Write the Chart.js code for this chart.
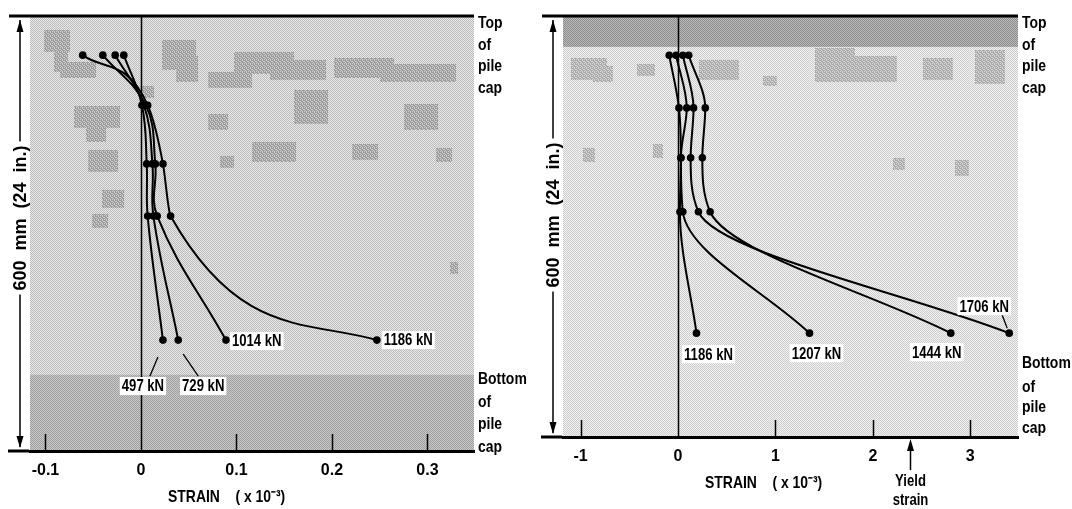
<!DOCTYPE html>
<html>
<head>
<meta charset="utf-8">
<script src="https://cdn.jsdelivr.net/npm/chart.js@4.4.1/dist/chart.umd.min.js"></script>
<style>
  html, body { margin: 0; padding: 0; background: #fff; overflow: hidden; }
  #wrap { position: relative; width: 1072px; height: 509px; }
  canvas { position: absolute; top: 0; }
  #left { left: 0; }
  #right { left: 536px; }
</style>
</head>
<body>
<div id="wrap">
  <canvas id="left" width="536" height="509"></canvas>
  <canvas id="right" width="536" height="509"></canvas>
</div>
<script>
// gauge heights above the bottom of the pile cap (mm), top row first
const heightsLeft = [546, 477, 396, 324, 153];
const heightsRight = [544, 469, 398, 321, 148];

// left panel: strain (x 10^-3) per load
const loadsLeft = ['497 kN', '729 kN', '1014 kN', '1186 kN'];
const strainL497 = [-0.018, 0.001, 0.006, 0.007, 0.023];
const strainL729 = [-0.027, 0.003, 0.012, 0.013, 0.039];
const strainL1014 = [-0.040, 0.005, 0.015, 0.017, 0.089];
const strainL1186 = [-0.061, 0.007, 0.023, 0.031, 0.247];
const ticksLeft = [-0.1, 0, 0.1, 0.2, 0.3];

// right panel
const loadsRight = ['1186 kN', '1207 kN', '1444 kN', '1706 kN'];
const strainR1186 = [-0.09, 0.01, 0.03, 0.02, 0.19];
const strainR1207 = [-0.02, 0.09, 0.03, 0.05, 1.35];
const strainR1444 = [0.11, 0.28, 0.25, 0.33, 2.80];
const strainR1706 = [0.05, 0.16, 0.13, 0.21, 3.40];
const ticksRight = [-1, 0, 1, 2, 3];
const yieldStrain = 2.38;

const FONT = '"Liberation Sans", Arial, sans-serif';
const font = (size) => 'bold ' + size + 'px ' + FONT;

// darker aggregate patches in the scanned concrete (px from chart area top-left)
const patchesLeft = [
  [14, 14, 26, 22], [24, 30, 14, 26], [30, 46, 36, 16], [44, 90, 46, 22], [56, 104, 20, 22],
  [58, 134, 30, 22], [72, 174, 22, 18], [132, 24, 34, 30], [146, 40, 22, 26], [178, 56, 44, 16],
  [204, 36, 60, 22], [240, 44, 56, 20], [264, 74, 34, 34], [304, 42, 60, 20], [350, 48, 76, 18],
  [374, 88, 34, 26], [222, 126, 44, 20], [322, 128, 26, 16], [406, 132, 16, 14], [62, 198, 16, 14],
  [178, 98, 20, 16], [420, 246, 8, 12], [110, 70, 14, 12], [190, 140, 14, 12]
];
const patchesRight = [
  [8, 42, 36, 22], [30, 50, 20, 16], [74, 48, 18, 12], [136, 44, 40, 20], [252, 32, 40, 34],
  [290, 40, 44, 26], [360, 42, 30, 22], [412, 34, 30, 34], [20, 132, 12, 14], [90, 128, 10, 14],
  [330, 142, 12, 12], [392, 144, 14, 16], [200, 60, 14, 10]
];

// scanned halftone look: small repeating tile of two greys
function halftone(ctx, base, dot, grainy) {
  const p = document.createElement('canvas');
  p.width = p.height = 4;
  const g = p.getContext('2d');
  g.fillStyle = base; g.fillRect(0, 0, 4, 4);
  g.fillStyle = dot;
  const cells = grainy
    ? [[0, 0], [1, 0], [3, 0], [1, 1], [2, 1], [0, 2], [2, 2], [3, 2], [1, 3], [3, 3]]
    : [[0, 0], [2, 0], [1, 1], [3, 1], [0, 2], [2, 2], [1, 3], [3, 3]];
  cells.forEach(c => g.fillRect(c[0], c[1], 1, 1));
  return ctx.createPattern(p, 'repeat');
}

// condensed bold text, the original uses a narrow grotesque
function narrow(ctx, text, x, y, size, align) {
  ctx.save();
  ctx.font = font(size);
  const w = ctx.measureText(text).width * 0.82;
  let left = x;
  if (align === 'center') left = x - w / 2;
  ctx.translate(left, y);
  ctx.scale(0.82, 1);
  ctx.textAlign = 'left';
  ctx.textBaseline = 'middle';
  ctx.fillText(text, 0, 0);
  ctx.restore();
  return w;
}

function labelBox(ctx, text, x, y, align) {
  ctx.font = font(16);
  const w = ctx.measureText(text).width * 0.82;
  const left = align === 'left' ? x : x - w / 2;
  ctx.fillStyle = '#fff';
  ctx.fillRect(left - 2, y - 9, w + 4, 18);
  ctx.fillStyle = '#000';
  narrow(ctx, text, left, y + 1, 16, 'left');
}

function panelPlugin(cfg) {
  return {
    id: 'panel',
    beforeDraw(chart) {
      const { ctx, chartArea: a, scales: { y } } = chart;
      ctx.save();
      ctx.fillStyle = halftone(ctx, cfg.fill[0], cfg.fill[1]);
      ctx.fillRect(a.left, a.top, a.width, a.height);
      ctx.fillStyle = halftone(ctx, cfg.patch[0], cfg.patch[1], true);
      cfg.patches.forEach(p => ctx.fillRect(a.left + p[0], a.top + p[1], p[2], p[3]));
      cfg.bands.forEach(b => {
        const y0 = y.getPixelForValue(b.to), y1 = y.getPixelForValue(b.from);
        ctx.fillStyle = halftone(ctx, b.fill[0], b.fill[1]);
        ctx.fillRect(a.left, y0, a.width, y1 - y0);
      });
      ctx.restore();
    },
    beforeDatasetsDraw(chart) {
      const { ctx, chartArea: a, scales: { x } } = chart;
      ctx.save();
      ctx.strokeStyle = '#000';
      // zero strain line
      const x0 = Math.round(x.getPixelForValue(0)) + 0.5;
      ctx.lineWidth = 1.5;
      ctx.beginPath(); ctx.moveTo(x0, a.top); ctx.lineTo(x0, a.bottom); ctx.stroke();
      // inward ticks
      cfg.ticks.forEach(v => {
        if (v === 0) return;
        const px = Math.round(x.getPixelForValue(v)) + 0.5;
        ctx.beginPath(); ctx.moveTo(px, a.bottom); ctx.lineTo(px, a.bottom - 17); ctx.stroke();
      });
      // top of pile cap line
      ctx.lineWidth = 3;
      ctx.beginPath(); ctx.moveTo(a.left, a.top); ctx.lineTo(a.right, a.top); ctx.stroke();
      ctx.restore();
    },
    afterDraw(chart) {
      const { ctx, chartArea: a, scales: { x } } = chart;
      ctx.save();
      ctx.fillStyle = '#000';
      ctx.strokeStyle = '#000';

      // load labels
      chart.data.datasets.forEach((ds, i) => {
        const pt = chart.getDatasetMeta(i).data[ds.data.length - 1];
        const l = cfg.labels[i];
        if (l.leader) {
          ctx.lineWidth = 1.3;
          ctx.beginPath();
          ctx.moveTo(pt.x + l.leader[0], pt.y + l.leader[1]);
          ctx.lineTo(pt.x + l.leader[2], pt.y + l.leader[3]);
          ctx.stroke();
        }
        labelBox(ctx, ds.label, pt.x + l.dx, pt.y + l.dy, l.align);
      });

      // side notes
      ctx.fillStyle = '#000';
      ['Top', 'of', 'pile', 'cap'].forEach((t, i) => narrow(ctx, t, a.right + 4, cfg.topRows[i], 17, 'left'));
      ['Bottom', 'of', 'pile', 'cap'].forEach((t, i) => narrow(ctx, t, a.right + 4, cfg.bottomRows[i], 17, 'left'));

      // 600 mm dimension
      const dx = cfg.dimX;
      ctx.lineWidth = 3;
      ctx.beginPath();
      ctx.moveTo(dx - 11, a.top); ctx.lineTo(dx + 10, a.top);
      ctx.moveTo(dx - 12, a.bottom); ctx.lineTo(dx + 9, a.bottom);
      ctx.stroke();
      ctx.lineWidth = 1.5;
      ctx.beginPath(); ctx.moveTo(dx, a.top + 4); ctx.lineTo(dx, a.bottom - 4); ctx.stroke();
      ctx.beginPath();
      ctx.moveTo(dx, a.top + 4); ctx.lineTo(dx - 3.5, a.top + 16); ctx.lineTo(dx + 3.5, a.top + 16);
      ctx.moveTo(dx, a.bottom - 3); ctx.lineTo(dx - 3.5, a.bottom - 15); ctx.lineTo(dx + 3.5, a.bottom - 15);
      ctx.fill();
      ctx.translate(dx, cfg.dimMid);
      ctx.rotate(-Math.PI / 2);
      ctx.font = font(18);
      const dimText = '600  mm  (24  in.)';
      const w = ctx.measureText(dimText).width;
      ctx.fillStyle = '#fff';
      ctx.fillRect(-w / 2 - 4, -10, w + 8, 20);
      ctx.fillStyle = '#000';
      ctx.textAlign = 'center';
      ctx.textBaseline = 'middle';
      ctx.fillText(dimText, 0, 1);
      ctx.setTransform(1, 0, 0, 1, 0, 0);

      // axis title
      narrow(ctx, 'STRAIN    ( x 10\u207B\u00B3)', cfg.titleX, cfg.titleY, 17, 'left');

      // yield strain marker
      if (cfg.yieldAt !== undefined) {
        const yx = Math.round(x.getPixelForValue(cfg.yieldAt)) + 0.5;
        ctx.lineWidth = 1.5;
        ctx.beginPath(); ctx.moveTo(yx, a.bottom + 12); ctx.lineTo(yx, a.bottom + 33); ctx.stroke();
        ctx.beginPath();
        ctx.moveTo(yx, a.bottom + 2); ctx.lineTo(yx - 3.5, a.bottom + 14); ctx.lineTo(yx + 3.5, a.bottom + 14);
        ctx.fill();
        narrow(ctx, 'Yield', yx, a.bottom + 45, 16, 'center');
        narrow(ctx, 'strain', yx, a.bottom + 64, 16, 'center');
      }
      ctx.restore();
    }
  };
}

function series(label, strains, heights, mode) {
  return {
    label,
    data: strains.map((s, i) => ({ x: s, y: heights[i] })),
    showLine: true,
    borderColor: '#000',
    borderWidth: 2,
    pointRadius: 3.8,
    pointBackgroundColor: '#000',
    pointBorderWidth: 0,
    tension: 0.4,
    cubicInterpolationMode: mode,
    fill: false
  };
}

function makePanel(id, datasets, opt) {
  new Chart(document.getElementById(id), {
    type: 'scatter',
    data: { datasets },
    options: {
      indexAxis: opt.indexAxis,
      responsive: false,
      animation: false,
      layout: { padding: opt.padding },
      plugins: { legend: { display: false }, tooltip: { enabled: false } },
      scales: {
        x: {
          type: 'linear',
          min: opt.xMin,
          max: opt.xMax,
          afterBuildTicks: s => { s.ticks = opt.ticks.map(v => ({ value: v })); },
          afterFit: s => { s.height = opt.axisHeight; },
          grid: { display: false, drawTicks: false },
          border: { display: true, color: '#000', width: 3 },
          ticks: {
            padding: 10,
            color: '#000',
            font: { family: FONT, size: 16, weight: 'bold' },
            callback: v => String(v)
          }
        },
        y: { type: 'linear', min: 0, max: 600, display: false }
      }
    },
    plugins: [panelPlugin(opt.plugin)]
  });
}

makePanel('left', [
  series(loadsLeft[0], strainL497, heightsLeft, 'default'),
  series(loadsLeft[1], strainL729, heightsLeft, 'default'),
  series(loadsLeft[2], strainL1014, heightsLeft, 'default'),
  series(loadsLeft[3], strainL1186, heightsLeft, 'monotone')
], {
  indexAxis: 'x',
  padding: { left: 30, right: 62, top: 16, bottom: 0 },
  xMin: -0.1162, xMax: 0.3487, ticks: ticksLeft, axisHeight: 58,
  plugin: {
    fill: ['#e8e8e8', '#bcbcbc'],
    patch: ['#d0d0d0', '#9a9a9a'],
    patches: patchesLeft,
    bands: [{ from: 0, to: 105, fill: ['#c8c8c8', '#a0a0a0'] }],
    ticks: ticksLeft,
    labels: [
      { dx: -20, dy: 46, align: 'center', leader: [-5, 17, -13, 36] },
      { dx: 25, dy: 46, align: 'center', leader: [5, 14, 20, 36] },
      { dx: 6, dy: 1, align: 'left' },
      { dx: 7, dy: 0, align: 'left' }
    ],
    topRows: [23, 45, 66, 88],
    bottomRows: [379, 402, 424, 447],
    dimX: 20, dimMid: 218,
    titleX: 168, titleY: 497
  }
});

makePanel('right', [
  series(loadsRight[0], strainR1186, heightsRight, 'monotone'),
  series(loadsRight[1], strainR1207, heightsRight, 'monotone'),
  series(loadsRight[2], strainR1444, heightsRight, 'monotone'),
  series(loadsRight[3], strainR1706, heightsRight, 'monotone')
], {
  indexAxis: 'y',
  padding: { left: 27, right: 54, top: 16, bottom: 0 },
  xMin: -1.18, xMax: 3.49, ticks: ticksRight, axisHeight: 72,
  plugin: {
    fill: ['#f2f2f2', '#cccccc'],
    patch: ['#dadada', '#a8a8a8'],
    patches: patchesRight,
    bands: [{ from: 556, to: 600, fill: ['#b8b8b8', '#8e8e8e'] }],
    ticks: ticksRight,
    labels: [
      { dx: 12, dy: 21, align: 'center' },
      { dx: 7, dy: 20, align: 'center' },
      { dx: -14, dy: 19, align: 'center' },
      { dx: -25, dy: -27, align: 'center', leader: [-7, -18, -2, -5] }
    ],
    topRows: [23, 45, 66, 88],
    bottomRows: [363, 387, 407, 428],
    dimX: 17, dimMid: 215,
    titleX: 169, titleY: 483,
    yieldAt: yieldStrain
  }
});
</script>
</body>
</html>
